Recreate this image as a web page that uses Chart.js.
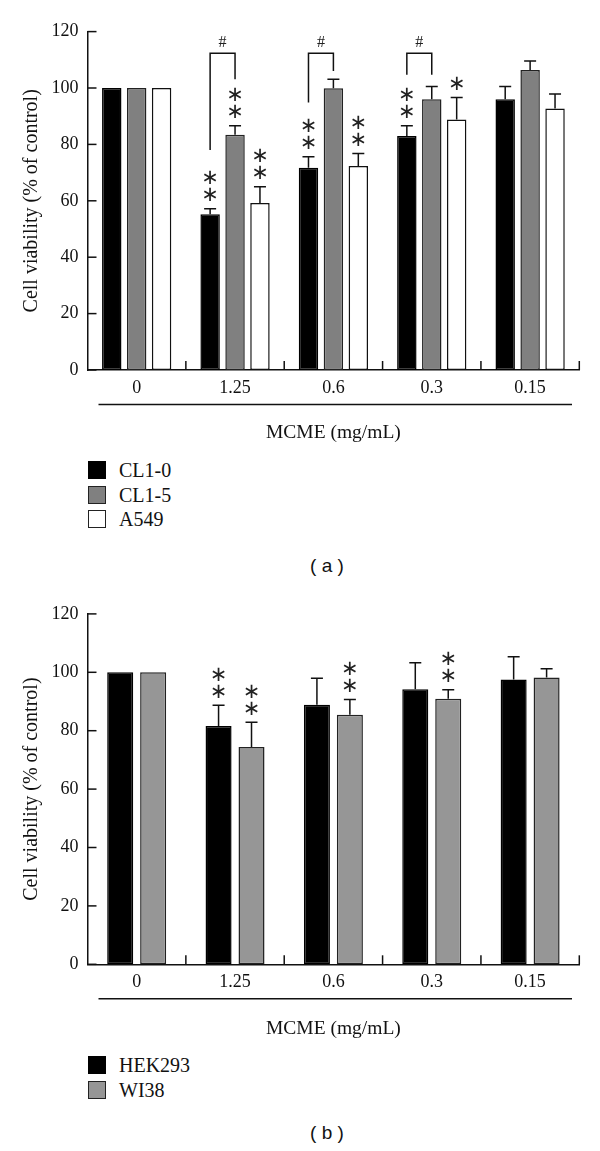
<!DOCTYPE html>
<html>
<head>
<meta charset="utf-8">
<script src="https://cdn.jsdelivr.net/npm/chart.js@4.4.1/dist/chart.umd.min.js"></script>
<style>
  html, body { margin: 0; padding: 0; background: #fff; }
  #wrap { position: relative; width: 600px; height: 1151px; background: #fff; overflow: hidden; }
  canvas { position: absolute; left: 0; }
  .leg { position: absolute; left: 88px; font-family: 'Liberation Serif', serif; font-size: 20px; color: #111; }
  .leg .row { position: relative; height: 24.5px; line-height: 24.5px; }
  .leg .box { position: absolute; left: 0; top: 3px; width: 16px; height: 16px; border: 1.5px solid #222; }
  .leg .lab { position: absolute; left: 31px; top: 0; white-space: nowrap; }
  .cap { position: absolute; width: 600px; text-align: center; font-family: 'Liberation Sans', sans-serif; font-size: 19px; color: #111; transform: translateX(-300px); left: 327px; }
</style>
</head>
<body>
<div id="wrap">
  <canvas id="ca" width="600" height="450" style="top:0px"></canvas>
  <canvas id="cb" width="600" height="465" style="top:580px"></canvas>

  <div class="leg" id="legA" style="top:458px"></div>
  <div class="cap" style="top:555px">( a )</div>

  <div class="leg" id="legB" style="top:1053px"></div>
  <div class="cap" style="top:1122px">( b )</div>
</div>
<script>
// ---------- DATA ----------
const categories = ['0', '1.25', '0.6', '0.3', '0.15'];
const yTicks = [0, 20, 40, 60, 80, 100, 120];

// Panel (a)
const cl10 = [100, 55.2, 71.7, 83.0, 96.0];
const cl10Err = [0, 2.0, 3.9, 3.6, 4.5];
const cl10Sig = ['', '**', '**', '**', ''];
const cl15 = [100, 83.4, 99.9, 96.0, 106.4];
const cl15Err = [0, 3.2, 3.2, 4.5, 3.2];
const cl15Sig = ['', '**', '', '', ''];
const a549 = [100, 59.2, 72.3, 88.8, 92.7];
const a549Err = [0, 5.8, 4.5, 7.8, 5.2];
const a549Sig = ['', '**', '**', '*', ''];
// "#" comparisons (CL1-0 vs CL1-5): category index, bracket top, left leg end, right leg end (data units)
const hashBrackets = [
  [1, 112.3, 78.0, 103.1],
  [2, 112.3, 94.9, 106.0],
  [3, 112.3, 104.7, 104.7]
];

// Panel (b)
const hek = [100, 81.6, 88.9, 94.2, 97.5];
const hekErr = [0, 7.1, 9.1, 9.1, 7.8];
const hekSig = ['', '**', '', '', ''];
const wi38 = [100, 74.4, 85.5, 90.9, 98.2];
const wi38Err = [0, 8.5, 5.2, 3.1, 3.0];
const wi38Sig = ['', '**', '**', '**', ''];

const xTitle = 'MCME (mg/mL)';
const yTitle = 'Cell viability (% of control)';

// ---------- STYLE ----------
const SERIF = "'Liberation Serif', 'Times New Roman', serif";
Chart.defaults.font.family = SERIF;
Chart.defaults.color = '#111';

const annotPlugin = {
  id: 'annot',
  afterDatasetsDraw(chart, args, opts) {
    const ctx = chart.ctx;
    const ys = chart.scales.y;
    const area = chart.chartArea;
    ctx.save();
    ctx.strokeStyle = '#111';
    ctx.fillStyle = '#222';
    ctx.lineWidth = 1.5;
    // error bars + stars
    chart.data.datasets.forEach((ds, di) => {
      const meta = chart.getDatasetMeta(di);
      meta.data.forEach((el, i) => {
        const err = ds.errors[i];
        let topPx = el.y;
        if (err > 0) {
          topPx = ys.getPixelForValue(ds.data[i] + err);
          ctx.beginPath();
          ctx.moveTo(el.x, el.y);
          ctx.lineTo(el.x, topPx);
          ctx.moveTo(el.x - 6, topPx);
          ctx.lineTo(el.x + 6, topPx);
          ctx.stroke();
        }
        const sig = ds.sig[i];
        ctx.font = "21px 'DejaVu Sans', sans-serif";
        ctx.textAlign = 'center';
        ctx.textBaseline = 'middle';
        for (let k = 0; k < sig.length; k++) {
          ctx.fillText('\u2217', el.x, topPx - 13 - k * 17);
        }
      });
    });
    // brackets
    (opts.brackets || []).forEach(b => {
      const m0 = chart.getDatasetMeta(0).data[b[0]];
      const m1 = chart.getDatasetMeta(1).data[b[0]];
      const yt = ys.getPixelForValue(b[1]);
      ctx.beginPath();
      ctx.moveTo(m0.x, ys.getPixelForValue(b[2]));
      ctx.lineTo(m0.x, yt);
      ctx.lineTo(m1.x, yt);
      ctx.lineTo(m1.x, ys.getPixelForValue(b[3]));
      ctx.stroke();
      ctx.font = '16px ' + SERIF;
      ctx.textAlign = 'center';
      ctx.textBaseline = 'middle';
      ctx.fillText('#', (m0.x + m1.x) / 2, yt - 11);
    });
    // inward y ticks
    ys.ticks.forEach(t => {
      const y = ys.getPixelForValue(t.value);
      ctx.beginPath();
      ctx.moveTo(area.left, y);
      ctx.lineTo(area.left + 9, y);
      ctx.stroke();
    });
    // upward x ticks at category boundaries
    const n = chart.data.labels.length;
    for (let i = 1; i <= n; i++) {
      const x = area.left + (area.right - area.left) * i / n;
      ctx.beginPath();
      ctx.moveTo(x, area.bottom);
      ctx.lineTo(x, area.bottom - 9);
      ctx.stroke();
    }
    // underline below category labels
    ctx.beginPath();
    ctx.moveTo(98.5, area.bottom + 34.5);
    ctx.lineTo(572, area.bottom + 34.5);
    ctx.stroke();
    ctx.restore();
  }
};

function makeChart(id, datasets, opt) {
  return new Chart(document.getElementById(id), {
    type: 'bar',
    data: { labels: categories, datasets },
    options: {
      responsive: false,
      animation: false,
      devicePixelRatio: 1,
      layout: { padding: { top: opt.top, right: 20.7, left: 0, bottom: 0 } },
      datasets: { bar: { categoryPercentage: opt.catPct, barPercentage: opt.barPct, borderSkipped: false } },
      plugins: {
        legend: { display: false },
        tooltip: { enabled: false },
        annot: { brackets: opt.brackets }
      },
      scales: {
        x: {
          grid: { display: false, drawTicks: false },
          border: { display: true, color: '#111', width: 1.5 },
          ticks: { font: { size: 18 }, padding: 7, color: '#111' },
          title: { display: true, text: xTitle, font: { size: 19.5 }, color: '#111', padding: { top: 0, bottom: opt.titlePad } },
          afterFit: s => { s.height = opt.xH; }
        },
        y: {
          min: 0, max: 120,
          afterBuildTicks: s => { s.ticks = yTicks.map(v => ({ value: v })); },
          grid: { display: false, drawTicks: false },
          border: { display: true, color: '#111', width: 1.5 },
          ticks: { font: { size: 18 }, padding: 9, color: '#111' },
          title: { display: true, text: yTitle, font: { size: 20 }, color: '#111', padding: { top: 19.7, bottom: 0 } },
          afterFit: s => { s.width = 87.5; }
        }
      }
    },
    plugins: [annotPlugin]
  });
}

makeChart('ca', [
  { label: 'CL1-0', data: cl10, errors: cl10Err, sig: cl10Sig, backgroundColor: '#000', borderColor: '#000', borderWidth: 1.5 },
  { label: 'CL1-5', data: cl15, errors: cl15Err, sig: cl15Sig, backgroundColor: '#808080', borderColor: '#222', borderWidth: 1.5 },
  { label: 'A549', data: a549, errors: a549Err, sig: a549Sig, backgroundColor: '#fff', borderColor: '#111', borderWidth: 1.5 }
], { top: 31.6, catPct: 0.76, barPct: 0.78, xH: 80, titlePad: 5, brackets: hashBrackets });

makeChart('cb', [
  { label: 'HEK293', data: hek, errors: hekErr, sig: hekSig, backgroundColor: '#000', borderColor: '#000', borderWidth: 1.5 },
  { label: 'WI38', data: wi38, errors: wi38Err, sig: wi38Sig, backgroundColor: '#969696', borderColor: '#222', borderWidth: 1.5 }
], { top: 33.9, catPct: 0.67, barPct: 0.79, xH: 80.7, titlePad: 4.3, brackets: [] });

// HTML legends
function buildLegend(id, items) {
  const el = document.getElementById(id);
  items.forEach(([name, color]) => {
    const row = document.createElement('div');
    row.className = 'row';
    row.innerHTML = '<span class="box" style="background:' + color + (color === '#000' ? ';border-color:#000' : '') + '"></span><span class="lab"></span>';
    row.querySelector('.lab').textContent = name;
    el.appendChild(row);
  });
}
buildLegend('legA', [['CL1-0', '#000'], ['CL1-5', '#808080'], ['A549', '#fff']]);
buildLegend('legB', [['HEK293', '#000'], ['WI38', '#969696']]);
</script>
</body>
</html>
